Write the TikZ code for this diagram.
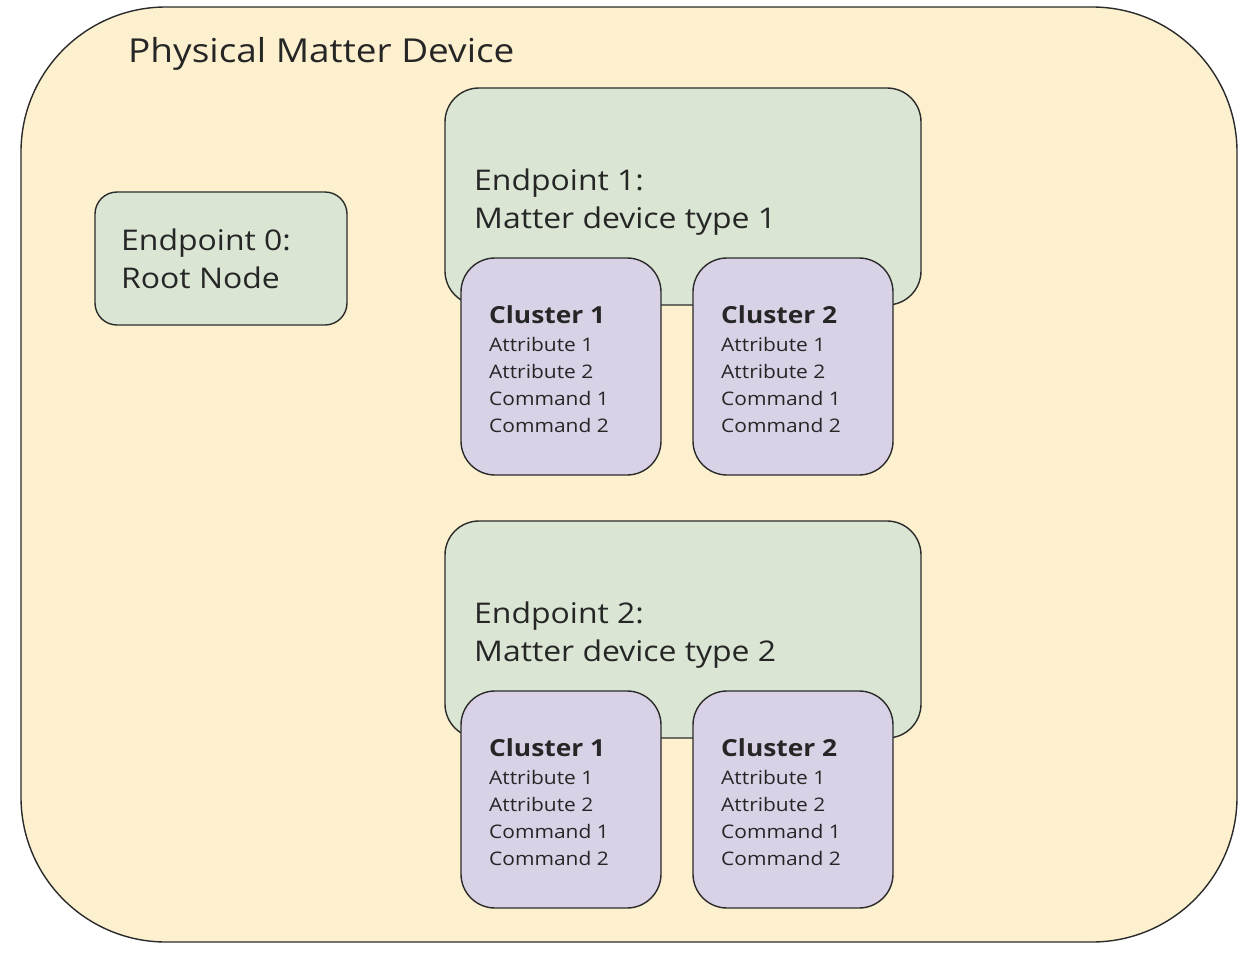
\documentclass[tikz,border=0pt]{standalone}
\usepackage{fontspec}
\setmainfont{Open Sans}[FakeStretch=1.12]
\definecolor{devfill}{HTML}{FCF0CF}
\definecolor{epfill}{HTML}{DAE6D3}
\definecolor{clfill}{HTML}{D9D2E7}
\definecolor{edge}{HTML}{2B2B2B}
\begin{document}
\begin{tikzpicture}[x=1pt,y=-1pt,
  box/.style={draw=edge,line width=1.4pt,rectangle,anchor=north west,inner sep=0pt,outer sep=0pt},
  device/.style={box,fill=devfill,rounded corners=145pt},
  epbox/.style={box,fill=epfill,rounded corners=34pt},
  epzero/.style={box,fill=epfill,rounded corners=22pt},
  clbox/.style={box,fill=clfill,rounded corners=34pt},
  title/.style={anchor=base west,inner sep=0pt,font=\fontsize{33}{40}\selectfont,text=black!85},
  eptext/.style={anchor=base west,inner sep=0pt,font=\fontsize{28.5}{38}\selectfont,align=left,text=black!85},
  cltitle/.style={anchor=base west,inner sep=0pt,font=\bfseries\fontsize{23.5}{27}\selectfont,text=black!85},
  cltext/.style={anchor=base west,inner sep=0pt,font=\fontsize{18.7}{27}\selectfont,align=left,text=black!85}
]
\useasboundingbox (0,0) rectangle (1248,956);
\node[device,minimum width=1216pt,minimum height=935pt] (dev) at (21,7) {};
\node[title] (devlabel) at (128,62) {Physical Matter Device};

\node[epzero,minimum width=252pt,minimum height=133pt] (ep0) at (95,192) {};
\node[eptext] (ep0a) at (121,250) {Endpoint 0:};
\node[eptext] (ep0b) at (121,288) {Root Node};

\node[epbox,minimum width=476pt,minimum height=217pt] (ep1) at (445,88) {};
\node[eptext] (ep1a) at (474,190) {Endpoint 1:};
\node[eptext] (ep1b) at (474,228) {Matter device type 1};

\node[epbox,minimum width=476pt,minimum height=217pt] (ep2) at (445,521) {};
\node[eptext] (ep2a) at (474,623) {Endpoint 2:};
\node[eptext] (ep2b) at (474,661) {Matter device type 2};

\foreach \n/\x/\y/\c in {c11/461/258/1,c12/693/258/2,c21/461/691/1,c22/693/691/2}{
  \node[clbox,minimum width=200pt,minimum height=217pt] (\n) at (\x,\y) {};
  \node[cltitle] (\n t) at (\x+28,\y+65) {Cluster \c};
  \node[cltext] (\n a) at (\x+28,\y+93) {Attribute 1};
  \node[cltext] (\n b) at (\x+28,\y+120) {Attribute 2};
  \node[cltext] (\n c) at (\x+28,\y+147) {Command 1};
  \node[cltext] (\n d) at (\x+28,\y+174) {Command 2};
}
\end{tikzpicture}
\end{document}
